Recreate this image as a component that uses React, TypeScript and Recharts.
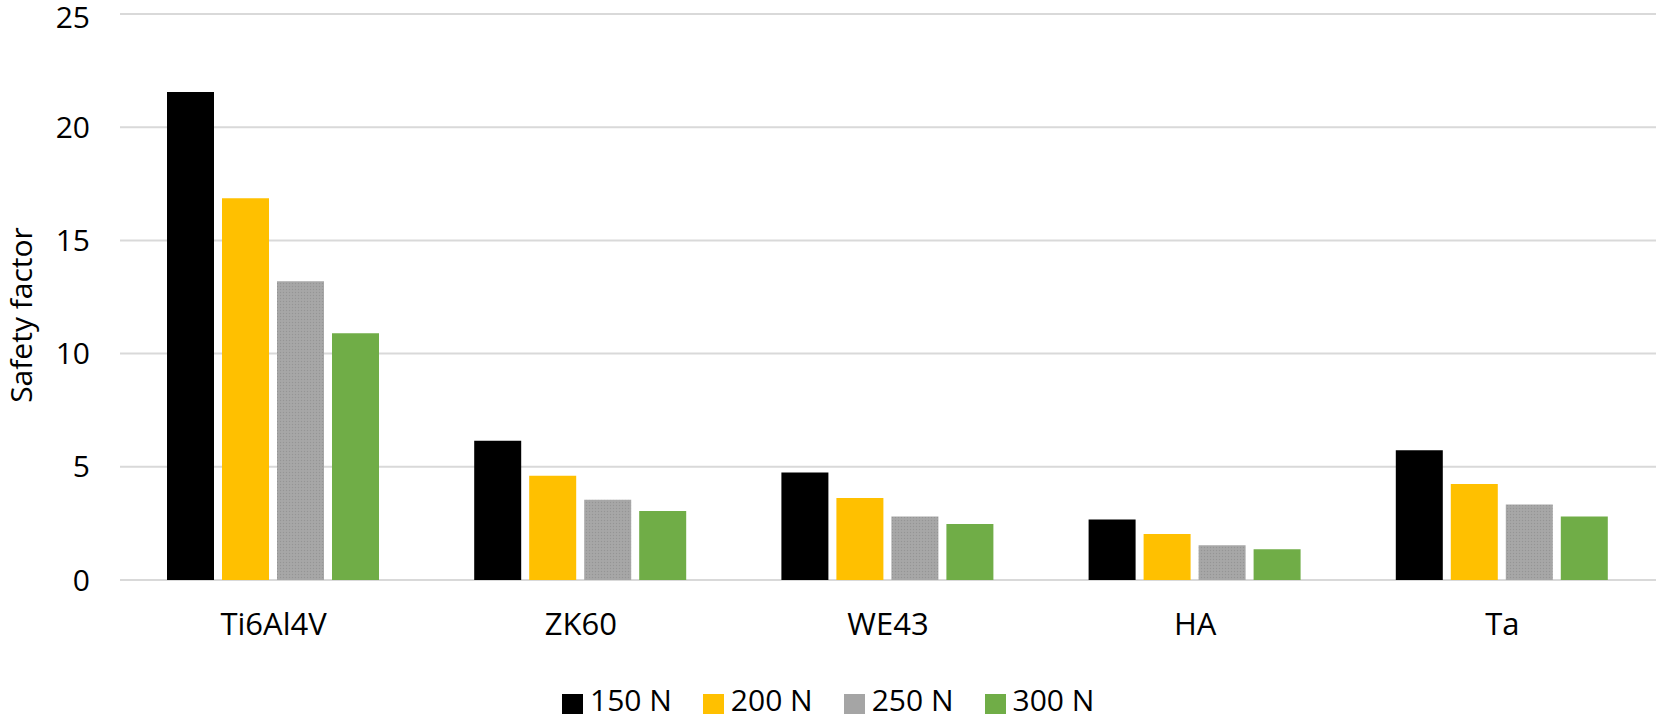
import React from "react";
import { BarChart, Bar, XAxis, YAxis, CartesianGrid } from "recharts";

const categories = ["Ti6Al4V", "ZK60", "WE43", "HA", "Ta"];
const s150 = [21.55, 6.15, 4.75, 2.67, 5.73];
const s200 = [16.86, 4.6, 3.62, 2.03, 4.24];
const s250 = [13.2, 3.55, 2.8, 1.53, 3.33];
const s300 = [10.9, 3.05, 2.47, 1.36, 2.8];
const yTicks = [0, 5, 10, 15, 20, 25];
const seriesNames = ["150 N", "200 N", "250 N", "300 N"];
const seriesKeys = ["s150", "s200", "s250", "s300"];
const seriesColors = ["#000000", "#FFC000", "url(#grayDots)", "#70AD47"];
const legendColors = ["#000000", "#FFC000", "#A5A5A5", "#70AD47"];

const data = categories.map((c, i) => ({
  name: c,
  s150: s150[i],
  s200: s200[i],
  s250: s250[i],
  s300: s300[i],
}));

const FONT = "'Open Sans', sans-serif";
const FS = 30;

const YLabel = (props: any) => {
  const { viewBox } = props;
  const cx = 32;
  const cy = viewBox.y + viewBox.height / 2 + 18;
  return (
    <text
      x={cx}
      y={cy}
      transform={`rotate(-90, ${cx}, ${cy})`}
      textAnchor="middle"
      fontFamily={FONT}
      fontSize={FS}
      fill="#000"
    >
      Safety factor
    </text>
  );
};

function ChartLegend() {
  return (
    <div
      style={{
        position: "absolute",
        left: 562,
        top: 685,
        display: "flex",
        alignItems: "flex-start",
        fontFamily: FONT,
        fontSize: 30,
        lineHeight: "30px",
        color: "#000",
        whiteSpace: "nowrap",
      }}
    >
      {seriesNames.map((n, i) => (
        <div key={n} style={{ display: "flex", alignItems: "flex-start", marginRight: i < seriesNames.length - 1 ? 31 : 0 }}>
          <div style={{ width: 21, height: 20, marginTop: 9, background: legendColors[i], marginRight: 7 }} />
          <span>{n}</span>
        </div>
      ))}
    </div>
  );
}

export default function App() {
  return (
    <div style={{ position: "absolute", left: 0, top: 0, width: 1659, height: 717, background: "#fff" }}>
      <BarChart
        width={1659}
        height={717}
        data={data}
        margin={{ top: 14, right: 3, bottom: 107, left: 0 }}
        barGap={8}
        barCategoryGap={47}
      >
        <defs>
          <pattern id="grayDots" width="3" height="3" patternUnits="userSpaceOnUse">
            <rect width="3" height="3" fill="#A7A7A7" />
            <circle cx="1.5" cy="1.5" r="0.7" fill="#959595" />
          </pattern>
        </defs>
        <CartesianGrid vertical={false} stroke="#D9D9D9" strokeWidth={2} />
        <XAxis
          dataKey="name"
          height={30}
          axisLine={false}
          tickLine={false}
          tickSize={0}
          tickMargin={33}
          tick={{ fontFamily: FONT, fontSize: 31, fill: "#000" }}
        />
        <YAxis
          width={120}
          domain={[0, 25]}
          ticks={yTicks}
          axisLine={false}
          tickLine={false}
          tickSize={0}
          tickMargin={30}
          tick={{ fontFamily: FONT, fontSize: FS, fill: "#000" }}
          label={<YLabel />}
        />
        {seriesKeys.map((k, i) => (
          <Bar
            key={k}
            dataKey={k}
            name={seriesNames[i]}
            fill={seriesColors[i]}
            isAnimationActive={false}
          />
        ))}
      </BarChart>
      <ChartLegend />
    </div>
  );
}
